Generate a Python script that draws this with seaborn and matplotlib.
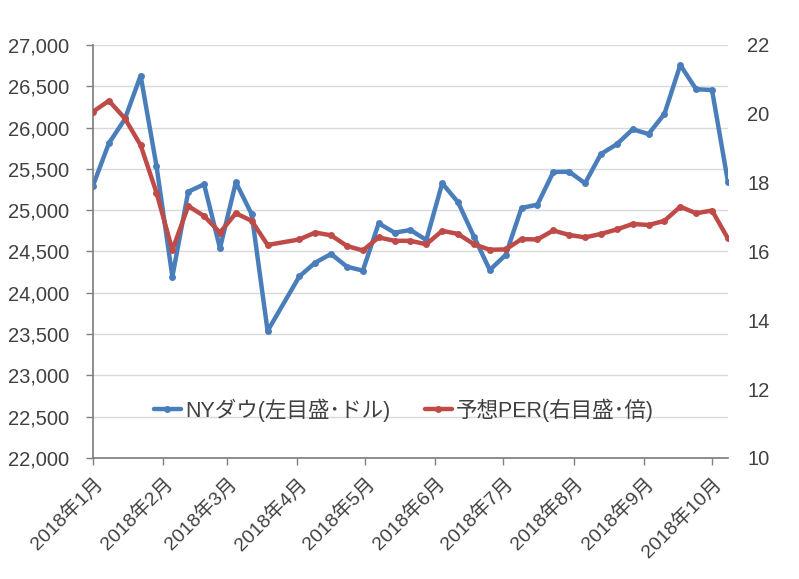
import matplotlib
matplotlib.use("Agg")
import matplotlib.pyplot as plt
import matplotlib.ticker as mticker
import seaborn as sns
import pandas as pd
import numpy as np

# ---- data ----
dates = pd.to_datetime([
    "2018-01-01", "2018-01-08", "2018-01-15", "2018-01-22", "2018-01-29",
    "2018-02-05", "2018-02-12", "2018-02-19", "2018-02-26", "2018-03-05",
    "2018-03-12", "2018-03-19", "2018-04-02", "2018-04-09", "2018-04-16",
    "2018-04-23", "2018-04-30", "2018-05-07", "2018-05-14", "2018-05-21",
    "2018-05-28", "2018-06-04", "2018-06-11", "2018-06-18", "2018-06-25",
    "2018-07-02", "2018-07-09", "2018-07-16", "2018-07-23", "2018-07-30",
    "2018-08-06", "2018-08-13", "2018-08-20", "2018-08-27", "2018-09-03",
    "2018-09-10", "2018-09-17", "2018-09-24", "2018-10-01", "2018-10-08",
])
dow = [
    25297, 25810, 26100, 26629, 25535,
    24195, 25224, 25313, 24539, 25338,
    24950, 23538, 24198, 24365, 24470,
    24316, 24268, 24841, 24728, 24760,
    24639, 25326, 25096, 24680, 24276,
    24458, 25027, 25067, 25462, 25466,
    25326, 25680, 25798, 25979, 25922,
    26165, 26758, 26464, 26455, 25346,
]
per = [
    20.06, 20.38, 19.87, 19.09, 17.71,
    16.04, 17.32, 17.03, 16.55, 17.11,
    16.89, 16.19, 16.35, 16.55, 16.47,
    16.16, 16.03, 16.41, 16.31, 16.31,
    16.21, 16.60, 16.51, 16.21, 16.05,
    16.06, 16.36, 16.35, 16.61, 16.48,
    16.41, 16.51, 16.64, 16.80, 16.77,
    16.89, 17.30, 17.11, 17.19, 16.38,
]
month_ticks = pd.to_datetime([
    "2018-01-01", "2018-02-01", "2018-03-01", "2018-04-01", "2018-05-01",
    "2018-06-01", "2018-07-01", "2018-08-01", "2018-09-01", "2018-10-01",
])
month_labels = ["2018年1月", "2018年2月", "2018年3月", "2018年4月", "2018年5月",
                "2018年6月", "2018年7月", "2018年8月", "2018年9月", "2018年10月"]
label_dow = "NYダウ(左目盛･ドル)"
label_per = "予想PER(右目盛･倍)"

df = pd.DataFrame({"date": dates, "dow": dow, "per": per})

# ---- style ----
sns.set_theme(style="white")
plt.rcParams["font.family"] = ["Liberation Sans", "Noto Sans CJK JP", "DejaVu Sans"]

blue = "#4A7EBB"
red = "#BE4B48"
txt = "#404040"

fig = plt.figure(figsize=(7.99, 5.79), dpi=100)
ax = fig.add_axes([0.1164, 0.209, 0.911 - 0.1164, 0.9223 - 0.209])
ax2 = ax.twinx()

sns.lineplot(data=df, x="date", y="dow", ax=ax, color=blue, linewidth=3.2,
             marker="o", markersize=5, markeredgewidth=0, label=label_dow, legend=False)
sns.lineplot(data=df, x="date", y="per", ax=ax2, color=red, linewidth=3.2,
             marker="o", markersize=5, markeredgewidth=0, label=label_per, legend=False)

ax.set_xlim(pd.Timestamp("2018-01-01"), pd.Timestamp("2018-10-08"))
ax.set_ylim(22000, 27000)
ax.set_yticks(np.arange(22000, 27001, 500))
ax.yaxis.set_major_formatter(mticker.FuncFormatter(lambda v, p: f"{int(v):,}"))
ax2.set_ylim(10, 22)
ax2.set_yticks(np.arange(10, 23, 2))

ax.set_xticks(month_ticks)
ax.set_xticklabels(month_labels, rotation=45, ha="right", rotation_mode="anchor")

ax.grid(axis="y", color="#D9D9D9", linewidth=1)
ax.set_axisbelow(True)
ax.set_xlabel("")
ax.set_ylabel("")
ax2.set_ylabel("")

for a in (ax, ax2):
    for s in ("top", "right"):
        a.spines[s].set_visible(False)
ax2.spines["left"].set_visible(False)
ax2.spines["bottom"].set_visible(False)
ax.spines["left"].set_color("#808080")
ax.spines["bottom"].set_color("#808080")

ax.tick_params(axis="y", which="major", length=5, width=1, color="#808080",
               labelsize=14.5, labelcolor=txt, left=True, pad=12)
ax.tick_params(axis="x", which="major", length=5, width=1, color="#808080",
               labelsize=14, labelcolor=txt, bottom=True, pad=7)
ax2.tick_params(axis="y", length=0, labelsize=14.5, labelcolor=txt, pad=14)

h1, l1 = ax.get_legend_handles_labels()
h2, l2 = ax2.get_legend_handles_labels()
leg = ax2.legend(h1 + h2, l1 + l2, loc="center", bbox_to_anchor=(0.49, 0.116),
                 ncol=2, frameon=False, fontsize=15.5, handlelength=1.25,
                 handletextpad=0.2, columnspacing=1.6)
for t in leg.get_texts():
    t.set_color(txt)

fig.savefig("out.png", dpi=100)
